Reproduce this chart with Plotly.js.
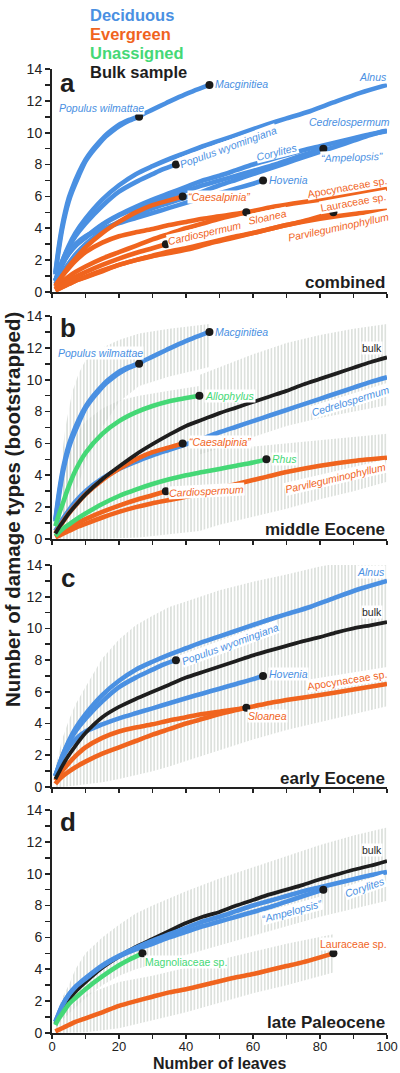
<!DOCTYPE html>
<html><head><meta charset="utf-8">
<script src="https://cdn.plot.ly/plotly-3.0.1.min.js"></script>
<style>html,body{margin:0;padding:0;background:#fff}#chart{width:400px;height:1073px}</style>
</head><body><div id="chart"></div>
<script>
// ---------------- DATA: number of damage types vs number of leaves ----------------
// Deciduous
const populusWilmattaeX = [1,2,3,4,5,6,8,10,12,14,16,18,20,23,26];
const populusWilmattaeY = [1.1,2.6,3.9,4.9,5.7,6.3,7.3,8.2,8.8,9.3,9.75,10.1,10.4,10.75,11.0];
const macginitieaX = [1,2,3,4,5,6,8,10,12,14,16,18,20,23,26,30,34,38,42,47];
const macginitieaY = [1.2,2.8,4.1,5.1,5.9,6.5,7.5,8.3,8.9,9.4,9.85,10.2,10.5,10.8,11.05,11.45,11.85,12.25,12.6,13.0];
const alnusX = [1,2,3,5,7,10,15,20,25,30,35,40,45,50,57,64,70,77,84,92,100];
const alnusY = [0.7,1.3,1.9,2.9,3.7,4.6,5.8,6.7,7.4,7.9,8.35,8.75,9.15,9.5,10.0,10.5,10.9,11.35,11.9,12.5,13.0];
const populusWyomingianaX = [1,2,3,5,7,10,15,20,25,30,33,37];
const populusWyomingianaY = [0.7,1.3,1.9,2.8,3.5,4.3,5.4,6.3,6.9,7.4,7.7,8.0];
const hoveniaX = [1,2,3,5,7,10,15,20,25,30,35,40,45,50,55,60,63];
const hoveniaY = [0.7,1.3,1.8,2.5,3.0,3.5,3.95,4.33,4.65,4.96,5.28,5.6,5.9,6.2,6.5,6.8,7.0];
const cedrelospermumX = [1,2,3,5,7,10,15,20,25,30,35,40,45,50,55,60,65,70,75,80,85,90,95,100];
const cedrelospermumY = [0.5,0.85,1.2,1.8,2.35,3.0,3.8,4.4,4.85,5.25,5.6,5.95,6.3,6.7,7.05,7.4,7.75,8.1,8.45,8.8,9.15,9.5,9.85,10.15];
const corylitesX = [1,2,3,5,7,10,15,20,25,30,35,40,45,50,55,60,65,70,75,80,85,90,95,100];
const corylitesY = [0.7,1.2,1.7,2.4,2.9,3.45,4.25,4.85,5.35,5.8,6.2,6.6,7.0,7.3,7.65,8.0,8.3,8.6,8.9,9.15,9.4,9.65,9.9,10.1];
const ampelopsisX = [1,2,3,5,7,10,15,20,25,30,35,40,45,50,55,60,65,70,75,81];
const ampelopsisY = [0.7,1.2,1.7,2.4,2.9,3.4,4.2,4.8,5.25,5.6,6.0,6.35,6.7,7.0,7.3,7.6,7.9,8.25,8.6,9.0];
// Evergreen
const caesalpiniaX = [1,2,3,5,7,10,15,20,25,30,35,39];
const caesalpiniaY = [0.35,0.7,1.0,1.6,2.1,2.8,3.7,4.4,5.0,5.45,5.75,6.0];
const sloaneaX = [1,2,3,5,7,10,15,20,25,30,35,40,45,50,55,58];
const sloaneaY = [0.2,0.45,0.65,0.97,1.25,1.6,2.1,2.5,2.9,3.3,3.65,4.0,4.3,4.6,4.85,5.0];
const apocynaceaeX = [1,2,3,5,7,10,15,20,25,30,35,40,45,50,58,65,72,80,90,100];
const apocynaceaeY = [0.4,0.7,1.0,1.5,1.95,2.5,3.1,3.5,3.75,3.95,4.2,4.4,4.6,4.75,5.0,5.3,5.55,5.8,6.15,6.5];
const cardiospermumX = [1,2,3,5,7,10,15,20,25,30,34];
const cardiospermumY = [0.15,0.3,0.45,0.7,0.95,1.25,1.7,2.1,2.45,2.75,3.0];
const lauraceaeX = [1,3,5,7,10,15,20,25,30,35,40,45,50,55,60,65,70,75,80,84];
const lauraceaeY = [0.1,0.3,0.5,0.7,0.92,1.3,1.7,2.0,2.28,2.55,2.75,3.0,3.25,3.5,3.7,3.95,4.2,4.45,4.75,5.0];
const parvileguminophyllumX = [1,2,3,5,7,10,15,20,25,30,35,42,47,53,60,64,70,80,90,100];
const parvileguminophyllumY = [0.1,0.2,0.3,0.5,0.7,0.95,1.35,1.7,2.0,2.25,2.45,2.75,3.05,3.35,3.7,3.9,4.2,4.6,4.9,5.1];
// Unassigned
const allophylusX = [1,2,3,5,7,10,15,20,25,30,35,40,44];
const allophylusY = [0.8,1.5,2.1,3.3,4.3,5.4,6.6,7.4,7.95,8.35,8.65,8.85,9.0];
const rhusX = [1,2,3,5,7,10,15,20,25,30,35,40,45,50,55,60,64];
const rhusY = [0.2,0.4,0.6,0.9,1.2,1.6,2.2,2.7,3.1,3.45,3.75,4.0,4.2,4.4,4.6,4.8,5.0];
const magnoliaceaeX = [1,2,3,5,7,10,15,20,23,27];
const magnoliaceaeY = [0.5,0.9,1.2,1.8,2.2,2.75,3.55,4.25,4.6,5.0];
// Bulk samples
const bulkMiddleX = [1,2,3,5,7,10,15,20,25,30,35,40,45,50,55,60,65,70,75,80,85,90,95,100];
const bulkMiddleY = [0.35,0.7,1.0,1.6,2.1,2.8,3.75,4.55,5.3,5.95,6.55,7.1,7.5,7.9,8.25,8.6,8.95,9.3,9.7,10.05,10.4,10.75,11.1,11.4];
const bulkEarlyX = [1,2,3,5,7,10,15,20,25,30,35,40,45,50,55,60,64,70,75,80,85,90,95,100];
const bulkEarlyY = [0.5,0.9,1.3,2.0,2.6,3.4,4.4,5.05,5.55,6.0,6.45,6.9,7.25,7.6,7.95,8.3,8.55,8.9,9.2,9.45,9.75,10.0,10.2,10.4];
const bulkLateX = [1,3,5,7,10,15,20,25,30,35,40,45,50,55,60,65,70,75,80,85,90,95,100];
const bulkLateY = [0.6,1.5,2.1,2.6,3.2,4.1,4.8,5.4,5.9,6.4,6.9,7.3,7.6,8.0,8.35,8.7,9.0,9.3,9.65,9.95,10.25,10.5,10.8];
// Bootstrap ranges (hatched)
const ciMacginitieaX = [1,2,4,6,8,10,15,20,26,35,47];
const ciMacginitieaUp = [1.5,3.5,7.0,9.2,10.4,11.2,12.0,12.5,12.9,13.2,13.5];
const ciMacginitieaLo = [0,0.3,1.2,2.2,3.5,4.8,7.0,8.6,9.6,10.2,10.8];
const ciAllophylusX = [1,3,5,8,10,15,20,26,35,44];
const ciAllophylusUp = [1.2,3.5,5.2,6.8,7.4,8.2,8.7,9.0,9.3,9.6];
const ciAllophylusLo = [0,0,0,0,0,0,0.05,0.1,0.3,0.5];
const ciBulkMiddleX = [44,50,55,60,70,80,90,100];
const ciBulkMiddleUp = [10.3,10.8,11.2,11.6,12.3,12.8,13.2,13.5];
const ciBulkMiddleLo = [5.3,5.7,6.0,6.4,7.1,7.6,8.0,8.4];
const ciParvX = [44,50,60,70,80,90,100];
const ciParvUp = [5.6,5.7,5.8,6.0,6.2,6.4,6.6];
const ciParvLo = [0.5,0.9,1.4,1.9,2.5,3.0,3.6];
const ciEarlyX = [1,3,5,7,10,15,20,25,30,35,40,45,50,60,70,80,90,100];
const ciEarlyUp = [1.2,3.0,4.2,5.2,6.3,8.1,9.3,10.2,10.8,11.35,11.7,12.05,12.4,12.95,13.4,13.9,14.3,14.7];
const ciEarlyLo = [0,0,0.05,0.1,0.15,0.3,0.5,0.75,1.0,1.3,1.6,1.95,2.3,3.0,3.6,4.1,4.6,5.1];
const ciLateX = [1,3,5,7,10,15,20,25,30,40,50,60,70,80,90,100];
const ciLateUp = [1.0,2.2,3.0,4.0,5.0,6.0,6.8,7.5,8.0,8.9,9.7,10.4,11.1,11.8,12.4,12.9];
const ciLateLo = [0.3,0.8,1.2,1.6,2.2,3.0,3.6,4.0,4.3,4.9,5.5,6.1,6.7,7.3,7.8,8.3];
const ciLauraceaeX = [1,5,10,20,30,40,50,60,70,84];
const ciLauraceaeUp = [0.6,1.6,2.4,3.2,3.6,4.1,4.6,5.1,5.6,6.2];
const ciLauraceaeLo = [0,0,0.05,0.3,0.8,1.3,1.9,2.5,3.0,3.8];

const legendLabels = ['Deciduous','Evergreen','Unassigned','Bulk sample'];
const periodLabels = ['combined','middle Eocene','early Eocene','late Paleocene'];
const panelLetters = ['a','b','c','d'];

// ---------------- STYLE ----------------
const FONT = 'Liberation Sans, Arial, Helvetica, sans-serif';
const BLUE = '#4a90e2', ORANGE = '#f0641e', GREEN = '#45d876', BLACK = '#1e1e1e', HATCH = '#c6cdc6';
const W = 400, H = 1073, ML = 52, MR = 13, PW = W - ML - MR;
const panelTop = [69, 316, 565, 810], panelBottom = [292, 539, 787, 1033];
const px = x => (x - ML) / PW, py = y => (H - y) / H;

const S = (x, y, color, dot, w) => ({x, y, color, dot, w: w || 4.6});
const sp = {
  popWil: S(populusWilmattaeX, populusWilmattaeY, BLUE, true),
  macg: S(macginitieaX, macginitieaY, BLUE, true),
  alnus: S(alnusX, alnusY, BLUE, false),
  popWyo: S(populusWyomingianaX, populusWyomingianaY, BLUE, true),
  hov: S(hoveniaX, hoveniaY, BLUE, true),
  cedr: S(cedrelospermumX, cedrelospermumY, BLUE, false),
  cory: S(corylitesX, corylitesY, BLUE, false),
  ampe: S(ampelopsisX, ampelopsisY, BLUE, true),
  caes: S(caesalpiniaX, caesalpiniaY, ORANGE, true),
  sloa: S(sloaneaX, sloaneaY, ORANGE, true),
  apoc: S(apocynaceaeX, apocynaceaeY, ORANGE, false),
  card: S(cardiospermumX, cardiospermumY, ORANGE, true),
  laur: S(lauraceaeX, lauraceaeY, ORANGE, true),
  parv: S(parvileguminophyllumX, parvileguminophyllumY, ORANGE, false),
  allo: S(allophylusX, allophylusY, GREEN, true),
  rhus: S(rhusX, rhusY, GREEN, true),
  magn: S(magnoliaceaeX, magnoliaceaeY, GREEN, true),
  bulkB: S(bulkMiddleX, bulkMiddleY, BLACK, false, 3.8),
  bulkC: S(bulkEarlyX, bulkEarlyY, BLACK, false, 3.8),
  bulkD: S(bulkLateX, bulkLateY, BLACK, false, 3.8)
};
const panels = [
  {bands: [], series: ['alnus','popWyo','cedr','cory','ampe','hov','macg','popWil','apoc','sloa','parv','laur','card','caes']},
  {bands: [[ciMacginitieaX,ciMacginitieaUp,ciMacginitieaLo],[ciAllophylusX,ciAllophylusUp,ciAllophylusLo],[ciBulkMiddleX,ciBulkMiddleUp,ciBulkMiddleLo],[ciParvX,ciParvUp,ciParvLo]],
   series: ['cedr','macg','popWil','parv','card','caes','rhus','allo','bulkB']},
  {bands: [[ciEarlyX,ciEarlyUp,ciEarlyLo]], series: ['hov','alnus','popWyo','apoc','sloa','bulkC']},
  {bands: [[ciLateX,ciLateUp,ciLateLo],[ciLauraceaeX,ciLauraceaeUp,ciLauraceaeLo]], series: ['laur','bulkD','ampe','cory','magn']}
];

const traces = [];
const layout = {
  width: W, height: H, margin: {l: ML, r: MR, t: 0, b: 0},
  paper_bgcolor: '#fff', plot_bgcolor: 'rgba(0,0,0,0)', showlegend: false,
  font: {family: FONT, color: '#222'}, annotations: []
};
panels.forEach((p, i) => {
  const k = i + 1, xa = k === 1 ? 'x' : 'x' + k, ya = k === 1 ? 'y' : 'y' + k;
  const xn = k === 1 ? 'xaxis' : 'xaxis' + k, yn = k === 1 ? 'yaxis' : 'yaxis' + k;
  layout[xn] = {domain: [0, 1], range: [0, 100], anchor: ya, showgrid: false, zeroline: false,
    showline: true, linewidth: 2, linecolor: '#222', ticks: 'outside', ticklen: 4, tickwidth: 1.6, tickcolor: '#222',
    dtick: 20, tick0: 0, showticklabels: k === 4, ticklabelstandoff: -4, tickfont: {family: FONT, size: 13, color: '#222'},
    minor: {dtick: 10, ticks: 'outside', ticklen: 4, tickwidth: 1.6, tickcolor: '#222'}};
  layout[yn] = {domain: [py(panelBottom[i]), py(panelTop[i])], range: [0, 14], anchor: xa, showgrid: false, zeroline: false,
    showline: true, linewidth: 2, linecolor: '#222', ticks: 'outside', ticklen: 5, tickwidth: 1.6, tickcolor: '#222',
    dtick: 2, tick0: 0, tickfont: {family: FONT, size: 14, color: '#222'},
    minor: {dtick: 1, ticks: 'outside', ticklen: 5, tickwidth: 1.6, tickcolor: '#222'}};
  p.bands.forEach(b => {
    traces.push({type: 'scatter', mode: 'lines', xaxis: xa, yaxis: ya, hoverinfo: 'skip',
      x: b[0].concat(b[0].slice().reverse()), y: b[1].concat(b[2].slice().reverse()),
      fill: 'toself', fillcolor: 'rgba(0,0,0,0)', line: {width: 0, color: 'rgba(0,0,0,0)'},
      fillpattern: {shape: '|', size: 3.35, solidity: 0.3, fgcolor: HATCH, bgcolor: 'rgba(0,0,0,0)', fillmode: 'replace'}});
  });
  p.series.forEach(n => {
    const s = sp[n];
    traces.push({type: 'scatter', mode: 'lines', xaxis: xa, yaxis: ya, x: s.x, y: s.y,
      line: {color: s.color, width: s.w, shape: 'spline', smoothing: 0.8}});
  });
  p.series.forEach(n => {
    const s = sp[n];
    if (!s.dot) return;
    traces.push({type: 'scatter', mode: 'markers', xaxis: xa, yaxis: ya, x: s.x.slice(-1), y: s.y.slice(-1),
      marker: {color: '#1a1a1a', size: 8}, cliponaxis: false});
  });
  layout.annotations.push({xref: 'paper', yref: 'paper', x: px(387), y: py([283, 529, 778, 1022][i]),
    xanchor: 'right', yanchor: 'middle', showarrow: false, text: '<b>' + periodLabels[i] + '</b>',
    font: {family: FONT, size: 17, color: '#1e1e1e'}});
  layout.annotations.push({xref: 'paper', yref: 'paper', x: px(67.5), y: py([83, 328, 578, 822][i]),
    xanchor: 'center', yanchor: 'middle', showarrow: false, text: '<b>' + panelLetters[i] + '</b>',
    font: {family: FONT, size: 26, color: '#1e1e1e'}});
});

// Legend text
[BLUE, ORANGE, GREEN, BLACK].forEach((c, i) => {
  layout.annotations.push({xref: 'paper', yref: 'paper', x: px(88), y: py([15, 34, 53, 72][i]),
    xanchor: 'left', yanchor: 'middle', showarrow: false, text: '<b>' + legendLabels[i] + '</b>',
    font: {family: FONT, size: 16.5, color: c}});
});

// Axis titles
layout.annotations.push({xref: 'paper', yref: 'paper', x: px(219.5), y: py(1063), showarrow: false, borderpad: 0,
  xanchor: 'center', yanchor: 'middle', text: '<b>Number of leaves</b>', font: {family: FONT, size: 16, color: '#1e1e1e'}});
layout.annotations.push({xref: 'paper', yref: 'paper', x: px(13), y: py(510), showarrow: false, textangle: -90,
  xanchor: 'center', yanchor: 'middle', text: '<b>Number of damage types (bootstrapped)</b>', font: {family: FONT, size: 20.5, color: '#1e1e1e'}});

// Species labels [text, color, x px, y px, angle, anchor, italic]
const Q1 = '\u201C', Q2 = '\u201D';
const speciesLabels = [
  ['Populus wilmattae', BLUE, 101, 108, 0, 'center', 1],
  ['Macginitiea', BLUE, 214, 84, 0, 'left', 1],
  ['Alnus', BLUE, 388, 77, 0, 'right', 1],
  ['Populus wyomingiana', BLUE, 228, 147, -20, 'center', 1],
  ['Cedrelospermum', BLUE, 349, 122, 0, 'center', 1],
  ['Corylites', BLUE, 277, 152, -14, 'center', 1],
  [Q1 + 'Ampelopsis' + Q2, BLUE, 352, 157, -2, 'center', 1],
  ['Hovenia', BLUE, 268, 180, 0, 'left', 1],
  ['Apocynaceae sp.', ORANGE, 347, 187, -10, 'center', 0],
  [Q1 + 'Caesalpinia' + Q2, ORANGE, 187, 197, 0, 'left', 1],
  ['Sloanea', ORANGE, 267, 217, -12, 'center', 1],
  ['Lauraceae sp.', ORANGE, 353, 202, -10, 'center', 0],
  ['Cardiospermum', ORANGE, 204, 233, -13, 'center', 1],
  ['Parvileguminophyllum', ORANGE, 338, 227, -12, 'center', 1],
  ['Macginitiea', BLUE, 214, 332, 0, 'left', 1],
  ['Populus wilmattae', BLUE, 100, 353, 0, 'center', 1],
  ['bulk', BLACK, 383, 348, 0, 'right', 0],
  ['Cedrelospermum', BLUE, 350, 401, -17, 'center', 1],
  ['Allophylus', GREEN, 204, 396, 0, 'left', 1],
  [Q1 + 'Caesalpinia' + Q2, ORANGE, 188, 442, 0, 'left', 1],
  ['Rhus', GREEN, 271, 459, 0, 'left', 1],
  ['Parvileguminophyllum', ORANGE, 335, 478, -13, 'center', 1],
  ['Cardiospermum', ORANGE, 206, 491, -3, 'center', 1],
  ['Alnus', BLUE, 386, 572, 0, 'right', 1],
  ['bulk', BLACK, 383, 612, 0, 'right', 0],
  ['Populus wyomingiana', BLUE, 230, 644, -20, 'center', 1],
  ['Hovenia', BLUE, 268, 674, 0, 'left', 1],
  ['Apocynaceae sp.', ORANGE, 347, 680, -9, 'center', 0],
  ['Sloanea', ORANGE, 267, 716, 0, 'center', 1],
  ['bulk', BLACK, 383, 850, 0, 'right', 0],
  ['Corylites', BLUE, 365, 887, -19, 'center', 1],
  [Q1 + 'Ampelopsis' + Q2, BLUE, 292, 911, -15, 'center', 1],
  ['Lauraceae sp.', ORANGE, 388, 944, 0, 'right', 0],
  ['Magnoliaceae sp.', GREEN, 144, 962, 0, 'left', 0]
];
speciesLabels.forEach(l => {
  layout.annotations.push({xref: 'paper', yref: 'paper', x: px(l[2]), y: py(l[3]), xanchor: l[5], yanchor: 'middle',
    textangle: l[4], showarrow: false, text: l[6] ? '<i>' + l[0] + '</i>' : l[0],
    font: {family: FONT, size: 10.5, color: l[1]}, bgcolor: '#ffffff', borderpad: 0});
});

Plotly.newPlot('chart', traces, layout, {displayModeBar: false, staticPlot: true});
</script></body></html>
